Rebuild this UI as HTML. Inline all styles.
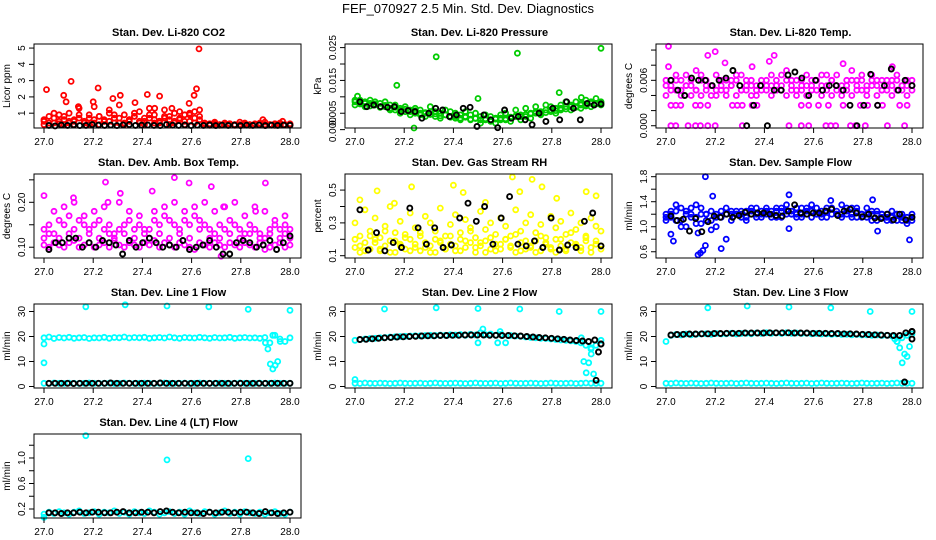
<!DOCTYPE html>
<html><head><meta charset="utf-8">
<style>
html,body{margin:0;padding:0;background:#fff;}
svg{display:block;font-family:"Liberation Sans",Arial,sans-serif;}
</style></head>
<body>
<svg id="chart" width="936" height="540" viewBox="0 0 936 540" xmlns="http://www.w3.org/2000/svg">
<text x="468" y="13" text-anchor="middle" font-size="13">FEF_070927  2.5 Min. Std. Dev. Diagnostics</text>
</svg>
<script>
// ---------- data ----------
const xTicks = [27.0, 27.2, 27.4, 27.6, 27.8, 28.0];
const xTickLabels = ["27.0", "27.2", "27.4", "27.6", "27.8", "28.0"];

// CO2
const co2Band1 = [0.5,0.8,0.4,0.9,0.6,1.0,0.5,0.7,0.4,0.9,0.6,0.8,0.5,1.0,0.7,0.4,0.9,0.6,0.8,1.1,0.5,0.7,0.9,0.4,0.8,0.6,1.0,0.7,0.5,0.9,1.1,0.6,0.4,0.35,0.45,0.3,0.4,0.35,0.3,0.45,0.4,0.3,0.35,0.4,0.45,0.3,0.35,0.4,0.3,0.35];
const co2Band2 = [0.3,0.4,1.0,0.35,0.3,0.5,0.3,1.3,0.4,0.3,1.4,0.3,0.5,1.2,0.4,1.5,0.3,0.5,1.0,0.4,0.3,1.3,0.4,0.5,1.2,0.3,0.5,1.1,0.3,1.0,0.4,1.2,0.3,0.25,0.3,0.25,0.3,0.3,0.25,0.3,0.3,0.25,0.3,0.3,0.25,0.3,0.25,0.3,0.3,0.25];
const co2Band3 = [0.6,0.4,0.7,0.5,0.8,0.4,0.6,0.9,0.5,0.7,0.4,0.8,0.6,0.5,0.9,0.7,0.4,0.6,0.8,0.5,0.7,0.9,0.6,0.5,0.7,0.8,0.4,0.6,0.9,0.5,0.7,0.8,0.3,0.3,0.35,0.3,0.3,0.35,0.3,0.3,0.35,0.3,0.3,0.35,0.3,0.3,0.35,0.3,0.3,0.3];
const co2OutX = [27.01,27.08,27.11,27.09,27.14,27.2,27.22,27.28,27.31,27.37,27.42,27.47,27.45,27.52,27.59,27.61,27.62,27.63,27.89,27.97];
const co2OutY = [2.45,2.1,2.95,1.7,1.4,1.7,2.55,1.9,2.1,1.65,2.15,2.05,1.3,1.3,1.6,2.1,2.5,4.95,0.6,0.5];
const co2Black = [0.25,0.22,0.27,0.25,0.28,0.24,0.25,0.3,0.26,0.25,0.27,0.24,0.28,0.3,0.25,0.26,0.27,0.25,0.24,0.3,0.26,0.25,0.27,0.24,0.26,0.25,0.28,0.24,0.26,0.25,0.27,0.24,0.26,0.25,0.27,0.24,0.26,0.25,0.27,0.26];

// Pressure
const presBand1 = [0.009,0.008,0.0085,0.008,0.0075,0.008,0.007,0.0075,0.006,0.0065,0.0055,0.006,0.005,0.0045,0.005,0.0055,0.004,0.005,0.0045,0.004,0.0035,0.0045,0.004,0.003,0.0035,0.004,0.003,0.0025,0.0035,0.003,0.003,0.0035,0.004,0.0045,0.004,0.005,0.0055,0.005,0.006,0.0055,0.0065,0.006,0.007,0.0075,0.007,0.008,0.0075,0.0085,0.008,0.0085];
const presBand2 = [0.0075,0.009,0.007,0.009,0.0085,0.007,0.0085,0.006,0.0075,0.005,0.007,0.0045,0.0065,0.006,0.004,0.007,0.0055,0.0035,0.006,0.0055,0.005,0.003,0.0055,0.0045,0.005,0.002,0.0045,0.004,0.002,0.0045,0.005,0.0025,0.006,0.003,0.0065,0.0035,0.007,0.0045,0.0075,0.007,0.005,0.0075,0.0085,0.006,0.0085,0.0065,0.009,0.007,0.0095,0.0075];
const presBand3 = [0.0085,0.0078,0.008,0.0072,0.0078,0.0068,0.0074,0.0065,0.0068,0.006,0.0062,0.0055,0.0058,0.005,0.0052,0.0046,0.0048,0.0042,0.0045,0.0038,0.004,0.0035,0.0038,0.0032,0.0034,0.003,0.0033,0.003,0.0032,0.0035,0.0033,0.0038,0.0042,0.004,0.0046,0.0048,0.005,0.0055,0.0052,0.006,0.0058,0.0065,0.0063,0.007,0.0068,0.0075,0.0072,0.008,0.0078,0.0082];
const presOutX = [27.17,27.33,27.66,27.83,28.0,27.24,27.5,27.92,27.01];
const presOutY = [0.0135,0.0222,0.0233,0.0113,0.0248,0.0005,0.0095,0.0098,0.0102];
const presBlack = [0.0085,0.007,0.0075,0.007,0.0068,0.007,0.0055,0.0058,0.0055,0.0035,0.005,0.0065,0.006,0.004,0.0045,0.0065,0.0068,0.001,0.0045,0.003,0.0006,0.006,0.0035,0.004,0.003,0.0015,0.005,0.0025,0.0065,0.003,0.0085,0.0065,0.003,0.008,0.0075,0.0078];

// Li-820 Temp
const ltBand1 = [0.006,0.0053,0.0047,0.006,0.0067,0.0053,0.0073,0.006,0.0047,0.0053,0.0067,0.006,0.0047,0.0053,0.006,0.0067,0.0047,0.004,0.0053,0.006,0.0047,0.0053,0.006,0.0067,0.0073,0.0047,0.006,0.0053,0.0067,0.006,0.0047,0.0053,0.0067,0.006,0.0047,0.0053,0.006,0.0073,0.0047,0.006,0.0053,0.0067,0.006,0.0047,0.0053,0.006,0.0067,0.0047,0.0053,0.006];
const ltBand2 = [0.004,0.0047,0.006,0.004,0.0053,0.004,0.0047,0.004,0.0053,0.004,0.0047,0.0053,0.004,0.006,0.004,0.0047,0.006,0.0053,0.004,0.0047,0.0053,0.004,0.0047,0.0053,0.004,0.006,0.004,0.0047,0.004,0.0053,0.006,0.004,0.0047,0.004,0.0053,0.004,0.0047,0.004,0.006,0.0047,0.004,0.0053,0.004,0.0047,0.006,0.004,0.0047,0.0053,0.004,0.0047];
const ltBand3 = [0.0053,0.006,0.0067,0.0047,0.0053,0.006,0.0047,0.0067,0.006,0.0053,0.004,0.0047,0.006,0.0053,0.0067,0.0047,0.0053,0.006,0.0047,0.0053,0.006,0.0067,0.0053,0.0047,0.006,0.0053,0.0047,0.006,0.0053,0.0047,0.006,0.0067,0.0053,0.006,0.0067,0.0047,0.0053,0.006,0.0053,0.0067,0.0047,0.006,0.0053,0.006,0.0047,0.0053,0.006,0.0053,0.006,0.0053];
const ltOutX = [27.02,27.04,27.06,27.12,27.14,27.17,27.27,27.29,27.31,27.35,27.37,27.55,27.58,27.62,27.66,27.72,27.79,27.82,27.86,27.88,27.95,27.98,27.02,27.04,27.09,27.12,27.14,27.17,27.2,27.31,27.5,27.55,27.58,27.65,27.67,27.69,27.75,27.77,27.81,27.9,27.97,27.01,27.2,27.17,27.24,27.44,27.42,27.72,27.01,27.35,27.92];
const ltOutY = [0.0027,0.0027,0.0027,0.0027,0.0027,0.0027,0.0027,0.0027,0.0027,0.0027,0.0027,0.0027,0.0027,0.0027,0.0027,0.0027,0.0027,0.0027,0.0027,0.0027,0.0027,0.0027,0,0,0,0,0,0,0,0,0,0,0,0,0,0,0,0,0,0,0,0.0105,0.0098,0.0093,0.0083,0.0093,0.0085,0.0082,0.0078,0.0078,0.0078];
const ltBlack = [0.006,0.0047,0.004,0.0063,0.006,0.006,0.0053,0.006,0.0063,0.0073,0.0053,0,0.0027,0.0053,0,0.0047,0.0047,0.0067,0.0071,0.0063,0.004,0.006,0.0047,0.0053,0.0053,0.0047,0.0027,0,0.0027,0.0068,0.0027,0.0053,0.0075,0.0047,0.006,0.0053];

// Amb box temp
const abBand1 = [0.14,0.15,0.13,0.16,0.15,0.17,0.14,0.16,0.15,0.13,0.15,0.16,0.14,0.15,0.13,0.14,0.15,0.16,0.14,0.15,0.13,0.14,0.16,0.15,0.17,0.16,0.15,0.14,0.16,0.15,0.17,0.16,0.15,0.14,0.13,0.15,0.14,0.16,0.15,0.14,0.13,0.15,0.14,0.13,0.12,0.14,0.15,0.14,0.13,0.14];
const abBand2 = [0.12,0.13,0.18,0.12,0.19,0.13,0.2,0.12,0.17,0.14,0.18,0.12,0.19,0.13,0.12,0.2,0.13,0.18,0.12,0.17,0.14,0.12,0.18,0.13,0.19,0.12,0.2,0.13,0.18,0.12,0.19,0.14,0.2,0.12,0.18,0.12,0.19,0.13,0.2,0.12,0.17,0.13,0.19,0.12,0.18,0.13,0.16,0.12,0.17,0.12];
const abBand3 = [0.105,0.1,0.11,0.105,0.1,0.11,0.115,0.1,0.105,0.11,0.1,0.105,0.11,0.1,0.115,0.105,0.1,0.11,0.105,0.1,0.11,0.105,0.115,0.1,0.11,0.105,0.1,0.11,0.105,0.1,0.095,0.11,0.105,0.1,0.11,0.105,0.1,0.11,0.105,0.1,0.11,0.105,0.1,0.11,0.095,0.1,0.105,0.11,0.1,0.105];
const abOutX = [27.0,27.25,27.53,27.59,27.9,27.68,27.44,27.31,27.12,27.26,27.73,27.86,27.72,27.98];
const abOutY = [0.215,0.245,0.255,0.243,0.243,0.235,0.225,0.22,0.21,0.2,0.19,0.18,0.08,0.15];
const abBlack = [0.095,0.11,0.11,0.12,0.12,0.1,0.11,0.1,0.115,0.11,0.105,0.085,0.115,0.1,0.11,0.12,0.11,0.1,0.105,0.1,0.115,0.095,0.1,0.105,0.115,0.1,0.085,0.085,0.11,0.115,0.11,0.1,0.105,0.115,0.095,0.11,0.125];

// Gas stream RH
const rhBand1 = [0.15,0.12,0.18,0.14,0.2,0.13,0.16,0.19,0.12,0.17,0.14,0.2,0.15,0.13,0.18,0.16,0.12,0.19,0.14,0.17,0.13,0.2,0.15,0.18,0.12,0.16,0.19,0.14,0.13,0.17,0.2,0.15,0.12,0.18,0.14,0.16,0.19,0.13,0.17,0.15,0.12,0.2,0.14,0.18,0.16,0.13,0.19,0.15,0.17,0.14];
const rhBand2 = [0.3,0.22,0.38,0.25,0.33,0.21,0.28,0.4,0.24,0.31,0.23,0.36,0.27,0.22,0.34,0.3,0.25,0.39,0.22,0.29,0.35,0.24,0.32,0.27,0.21,0.37,0.26,0.3,0.23,0.33,0.28,0.22,0.38,0.25,0.3,0.35,0.24,0.29,0.21,0.34,0.27,0.31,0.23,0.36,0.26,0.3,0.22,0.33,0.28,0.25];
const rhBand3 = [0.2,0.16,0.13,0.22,0.18,0.14,0.25,0.12,0.19,0.16,0.21,0.13,0.17,0.24,0.15,0.12,0.2,0.18,0.14,0.22,0.16,0.13,0.19,0.25,0.15,0.18,0.12,0.21,0.17,0.14,0.2,0.16,0.23,0.13,0.19,0.15,0.12,0.22,0.18,0.14,0.2,0.16,0.13,0.24,0.17,0.15,0.21,0.12,0.19,0.16];
const rhOutX = [27.09,27.23,27.4,27.44,27.64,27.72,27.53,27.67,27.76,27.94,27.98,27.02,27.16,27.82];
const rhOutY = [0.495,0.52,0.53,0.485,0.58,0.565,0.425,0.49,0.52,0.49,0.465,0.44,0.42,0.45];
const rhBlack = [0.38,0.135,0.24,0.13,0.18,0.15,0.39,0.27,0.17,0.27,0.15,0.165,0.33,0.42,0.31,0.4,0.17,0.33,0.46,0.17,0.16,0.19,0.15,0.33,0.135,0.165,0.15,0.31,0.36,0.16];

// Sample flow
const sfBand1 = [1.15,1.25,1.1,1.3,1.0,1.2,1.35,1.05,1.2,0.95,1.15,1.25,0.8,1.25,1.2,1.15,1.25,1.2,1.3,1.15,1.25,1.2,1.3,1.15,1.25,1.2,1.3,1.2,1.25,1.15,1.3,1.2,1.25,1.3,1.2,1.15,1.25,1.2,1.3,1.15,1.2,1.25,1.1,1.2,1.15,1.1,1.2,1.15,1.1,1.15];
const sfBand2 = [1.1,1.2,1.35,1.0,1.25,1.15,1.05,1.3,1.2,1.1,1.0,0.65,1.3,1.1,1.2,1.25,1.1,1.25,1.15,1.2,1.3,1.25,1.15,1.25,1.35,1.2,1.15,1.3,1.2,1.35,1.2,1.25,1.15,1.3,1.2,1.35,1.2,1.3,1.15,1.2,1.3,1.1,1.25,1.2,1.1,1.15,1.2,1.1,1.05,1.1];
const sfBand3 = [1.2,1.15,1.25,1.1,1.2,1.3,1.15,1.2,1.1,1.25,1.2,1.15,1.2,1.2,1.25,1.2,1.15,1.3,1.2,1.25,1.2,1.15,1.25,1.3,1.2,1.25,1.2,1.15,1.3,1.25,1.2,1.15,1.3,1.2,1.25,1.2,1.3,1.15,1.25,1.2,1.15,1.2,1.2,1.15,1.2,1.25,1.1,1.2,1.15,1.2];
const sfOutX = [27.02,27.03,27.13,27.14,27.15,27.16,27.16,27.19,27.5,27.5,27.67,27.99,27.84,27.86,27.13];
const sfOutY = [0.88,0.77,0.55,0.58,0.62,0.7,1.8,1.49,0.97,1.51,1.42,0.79,1.43,0.93,0.9];
const sfBlack = [1.17,1.1,1.12,0.93,1.13,0.92,1.08,1.17,1.15,1.2,1.15,1.18,1.23,1.2,1.22,1.22,1.2,1.18,1.17,1.25,1.35,1.22,1.2,1.22,1.22,1.25,1.28,1.18,1.25,1.28,1.22,1.16,1.2,1.14,1.13,1.2,1.11,1.2,1.11,1.15];

// Line flows
const lowBand = [1.3,1.2,1.4,1.3,1.25,1.35,1.3,1.2,1.3,1.4,1.3,1.25,1.3,1.35,1.2,1.3,1.4,1.3,1.25,1.3,1.35,1.3,1.2,1.3,1.4,1.3,1.25,1.3,1.35,1.2,1.3,1.4,1.3,1.25,1.3,1.35,1.3,1.2,1.3,1.4,1.3,1.25,1.3,1.35,1.2,1.3,1.4,1.3,1.25,1.3];
const l1Band = [19.5,19.8,19.2,19.6,19.4,19.7,19.3,19.5,19.6,19.2,19.5,19.4,19.7,19.3,19.6,19.5,19.8,19.4,19.6,19.5,19.7,19.3,19.5,19.6,19.4,19.8,19.5,19.3,19.6,19.5,19.4,19.7,19.5,19.3,19.6,19.4,19.5,19.7,19.3,19.5,19.6,19.4,19.5,19.3,19.6,17.5,20.5,19.0,18.0,19.5];
const l1OutX = [27.0,27.0,27.17,27.33,27.5,27.67,27.83,28.0,27.9,27.91,27.92,27.93,27.94,27.95,27.93,27.96];
const l1OutY = [9.5,17,31.9,32.7,32.2,31.9,30.9,30.5,17.5,15,9,7,8.5,10,20.5,18];
const l1Black = [1.3,1.3,1.3,1.3,1.2,1.3,1.3,1.3,1.3,1.3,1.4,1.3,1.3,1.3,1.3,1.3,1.3,1.3,1.4,1.3,1.3,1.3,1.3,1.3,1.3,1.3,1.3,1.3,1.3,1.3,1.3,1.3,1.3,1.3,1.3,1.3,1.3,1.3,1.3,1.3];

const l2Band = [18.5,18.8,19.0,19.2,19.3,19.5,19.6,19.8,19.9,20.0,20.1,20.2,20.3,20.3,20.4,20.5,20.4,20.6,20.5,20.7,20.6,20.8,20.5,20.9,20.6,21.5,20.7,21.0,20.5,20.8,17.5,20.4,20.2,20.1,19.8,19.6,19.5,19.3,19.2,19.0,18.8,18.6,18.5,18.3,18.0,17.5,16.5,15.0,16.5,18.5];
const l2Black = [18.8,18.9,19.1,19.3,19.5,19.6,19.8,19.9,20.0,20.1,20.2,20.3,20.3,20.4,20.4,20.5,20.5,20.6,20.6,20.6,20.6,20.5,20.5,20.4,20.4,20.3,20.2,20.0,19.8,19.6,19.5,19.3,19.1,18.9,18.6,18.4,18.2,18.0,18.6,17.0];
const l2OutX = [27.0,27.12,27.33,27.5,27.67,27.83,28.0,27.52,27.59,27.58,27.5,27.93,27.94,27.95,27.96,27.97,27.96,27.92];
const l2OutY = [2.8,31,31.5,31.2,31,30,30,23,22,17.5,17.5,10,5.5,9.5,13,5,15.5,19.5];
const l2BlackOutX = [27.98,27.99,28.0];
const l2BlackOutY = [2.5,13.8,17];

const l3Band = [18.0,20.5,20.8,20.6,21.0,20.7,20.9,21.0,21.1,20.9,21.2,21.0,21.1,21.3,21.0,21.2,21.3,21.1,21.4,21.2,21.5,21.3,21.4,21.2,21.5,21.3,21.4,21.2,21.3,21.1,21.2,21.0,21.1,20.9,21.0,20.8,20.9,20.7,20.8,20.6,20.7,20.5,20.6,20.4,20.5,20.2,18.0,19.5,20.5,21.0];
const l3Black = [20.6,20.8,20.9,21.0,21.0,21.1,21.1,21.2,21.2,21.3,21.3,21.3,21.4,21.4,21.4,21.4,21.5,21.5,21.5,21.5,21.4,21.4,21.4,21.3,21.3,21.3,21.2,21.2,21.1,21.1,21.0,20.9,20.8,20.7,20.6,20.5,20.4,20.4,21.5,22.0];
const l3OutX = [27.17,27.33,27.5,27.67,27.83,28.0,27.94,27.95,27.96,27.97,27.98,27.99,27.93];
const l3OutY = [31.5,32.2,31.8,31.5,30,30,18,15.5,9.5,13,12,16,19];
const l3BlackOutX = [27.97,28.0,28.0];
const l3BlackOutY = [1.8,19,22];

const l4Band = [0.12,0.15,0.13,0.16,0.14,0.12,0.15,0.17,0.13,0.14,0.16,0.12,0.15,0.14,0.17,0.13,0.15,0.12,0.16,0.14,0.13,0.17,0.15,0.12,0.14,0.16,0.13,0.15,0.12,0.17,0.14,0.13,0.16,0.15,0.12,0.14,0.17,0.13,0.15,0.12,0.16,0.14,0.13,0.15,0.12,0.14,0.16,0.13,0.12,0.15];
const l4Black = [0.14,0.14,0.13,0.14,0.14,0.15,0.14,0.15,0.15,0.14,0.14,0.15,0.16,0.14,0.14,0.15,0.15,0.14,0.16,0.17,0.15,0.14,0.15,0.14,0.14,0.13,0.15,0.14,0.15,0.15,0.14,0.15,0.15,0.14,0.13,0.16,0.14,0.13,0.14,0.15];
const l4OutX = [27.17,27.5,27.83,27.0];
const l4OutY = [1.35,0.97,0.99,0.07];

// ---------- drawing ----------
const svg = document.getElementById('chart');
const NS = 'http://www.w3.org/2000/svg';
function mk(tag, attrs, parent) {
  const e = document.createElementNS(NS, tag);
  for (const k in attrs) e.setAttribute(k, attrs[k]);
  (parent || svg).appendChild(e);
  return e;
}
function even(n) { const a = []; for (let i = 0; i < n; i++) a.push(27 + i / (n - 1)); return a; }

const panels = [
 {r:0,c:0,key:'co2',title:'Stan. Dev. Li-820 CO2',ylab:'Licor ppm',lo:0.09,hi:5.25,ticks:[1,2,3,4,5],tl:['1','2','3','4','5'],color:'#ff0000',
  bands:[co2Band1,co2Band2,co2Band3],outX:co2OutX,outY:co2OutY,black:co2Black},
 {r:0,c:1,key:'pressure',title:'Stan. Dev. Li-820 Pressure',ylab:'kPa',lo:0.0005,hi:0.0261,ticks:[0,0.005,0.01,0.015,0.02,0.025],tl:['0.000','0.005','','0.015','','0.025'],color:'#00cc00',
  bands:[presBand1,presBand2,presBand3],outX:presOutX,outY:presOutY,black:presBlack},
 {r:0,c:2,key:'li820-temp',title:'Stan. Dev. Li-820 Temp.',ylab:'degrees C',lo:-0.0003,hi:0.0108,ticks:[0,0.002,0.004,0.006,0.008,0.010],tl:['0.000','','','0.006','',''],color:'#ff00ff',
  bands:[ltBand1,ltBand2,ltBand3],outX:ltOutX,outY:ltOutY,black:ltBlack},
 {r:1,c:0,key:'amb-box-temp',title:'Stan. Dev. Amb. Box Temp.',ylab:'degrees C',lo:0.076,hi:0.263,ticks:[0.10,0.15,0.20,0.25],tl:['0.10','','0.20',''],color:'#ff00ff',
  bands:[abBand1,abBand2,abBand3],outX:abOutX,outY:abOutY,black:abBlack},
 {r:1,c:1,key:'gas-rh',title:'Stan. Dev. Gas Stream RH',ylab:'percent',lo:0.086,hi:0.598,ticks:[0.1,0.2,0.3,0.4,0.5],tl:['0.1','','0.3','','0.5'],color:'#ffff00',
  bands:[rhBand1,rhBand2,rhBand3],outX:rhOutX,outY:rhOutY,black:rhBlack},
 {r:1,c:2,key:'sample-flow',title:'Stan. Dev. Sample Flow',ylab:'ml/min',lo:0.5,hi:1.843,ticks:[0.6,0.8,1.0,1.2,1.4,1.6,1.8],tl:['0.6','','1.0','','1.4','','1.8'],color:'#0000ff',
  bands:[sfBand1,sfBand2,sfBand3],outX:sfOutX,outY:sfOutY,black:sfBlack},
 {r:2,c:0,key:'line1-flow',title:'Stan. Dev. Line 1 Flow',ylab:'ml/min',lo:-0.6,hi:33,ticks:[0,10,20,30],tl:['0','10','20','30'],color:'#00ffff',
  bands:[l1Band,lowBand],outX:l1OutX,outY:l1OutY,black:l1Black},
 {r:2,c:1,key:'line2-flow',title:'Stan. Dev. Line 2 Flow',ylab:'ml/min',lo:-0.6,hi:33,ticks:[0,10,20,30],tl:['0','10','20','30'],color:'#00ffff',
  bands:[l2Band,lowBand],outX:l2OutX,outY:l2OutY,black:l2Black,bOutX:l2BlackOutX,bOutY:l2BlackOutY},
 {r:2,c:2,key:'line3-flow',title:'Stan. Dev. Line 3 Flow',ylab:'ml/min',lo:-0.6,hi:33,ticks:[0,10,20,30],tl:['0','10','20','30'],color:'#00ffff',
  bands:[l3Band,lowBand],outX:l3OutX,outY:l3OutY,black:l3Black,bOutX:l3BlackOutX,bOutY:l3BlackOutY},
 {r:3,c:0,key:'line4-flow',title:'Stan. Dev. Line 4 (LT) Flow',ylab:'ml/min',lo:0.059,hi:1.376,ticks:[0.2,0.4,0.6,0.8,1.0,1.2],tl:['0.2','','0.6','','1.0',''],color:'#00ffff',
  bands:[l4Band],outX:l4OutX,outY:l4OutY,black:l4Black}
];

panels.forEach(p => {
  const L = 34 + 311 * p.c, T = 44 + 130 * p.r, W = 267, H = 84;
  const xs = v => L + 10 + (v - 27) * 246;
  const ys = v => T + H - (v - p.lo) / (p.hi - p.lo) * H;
  const g = mk('g', {});
  
  
  const t = mk('text', {x: L + W / 2 + 1, y: T - 8, 'text-anchor': 'middle', 'font-size': 11, 'font-weight': 'bold'}, g);
  t.textContent = p.title;
  
  
  const yl = mk('text', {x: 0, y: 0, 'text-anchor': 'middle', 'font-size': 10, transform: `translate(${L - 24},${T + H / 2}) rotate(-90)`}, g);
  yl.textContent = p.ylab;
  
  
  const pts = mk('g', {fill: 'none'}, g);
  
  
  const dot = (x, y, col, sw) => {
    const cy = ys(y);
    if (cy < T - 1 || cy > T + H + 1) return;
    const c = mk('circle', {cx: xs(x).toFixed(1), cy: cy.toFixed(1), r: 2.5, stroke: col, 'stroke-width': sw}, pts);
    
    
  };
  p.bands.forEach(b => { const ex = even(b.length); b.forEach((v, i) => dot(ex[i], v, p.color, 1.8)); });
  p.outX.forEach((x, i) => dot(x, p.outY[i], p.color, 1.8));
  const bx = p.black.map((v, i) => 27.02 + i * 0.98 / (p.black.length - 1));
  p.black.forEach((v, i) => dot(bx[i], v, '#000', 1.9));
  if (p.bOutX) p.bOutX.forEach((x, i) => dot(x, p.bOutY[i], '#000', 1.9));
  const box = mk('rect', {x: L, y: T, width: W, height: H, fill: 'none', stroke: '#000', 'stroke-width': 1}, g);
  
  
  xTicks.forEach((v, i) => {
    mk('line', {x1: xs(v), x2: xs(v), y1: T + H, y2: T + H + 5, stroke: '#000'}, g);
    const tx = mk('text', {x: xs(v), y: T + H + 17, 'text-anchor': 'middle', 'font-size': 10}, g);
    tx.textContent = xTickLabels[i];
    
    
  });
  p.ticks.forEach((v, i) => {
    const y = ys(v);
    mk('line', {x1: L - 5, x2: L, y1: y, y2: y, stroke: '#000'}, g);
    if (p.tl[i]) {
      const ty = mk('text', {x: 0, y: 0, 'text-anchor': 'middle', 'font-size': 10, transform: `translate(${L - 9},${y}) rotate(-90)`}, g);
      ty.textContent = p.tl[i];
      
      
    }
  });
});
</script>
</body></html>
